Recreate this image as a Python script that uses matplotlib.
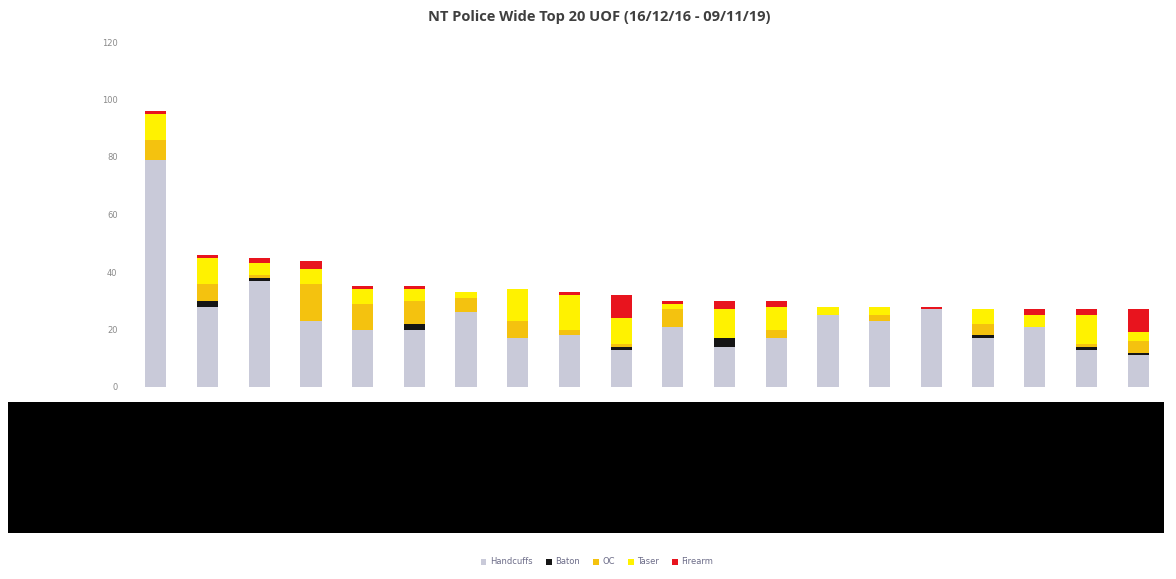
import matplotlib
matplotlib.use("Agg")
import matplotlib.pyplot as plt
from matplotlib.patches import Rectangle
import numpy as np

# Top 20 use-of-force counts, stacked by force type
ranks = list(range(1, 21))
handcuffs = [79, 28, 37, 23, 20, 20, 26, 17, 18, 13, 21, 14, 17, 25, 23, 27, 17, 21, 13, 11]
baton     = [0, 2, 1, 0, 0, 2, 0, 0, 0, 1, 0, 3, 0, 0, 0, 0, 1, 0, 1, 1]
oc        = [7, 6, 1, 13, 9, 8, 5, 6, 2, 1, 6, 0, 3, 0, 2, 0, 4, 0, 1, 4]
taser     = [9, 9, 4, 5, 5, 4, 2, 11, 12, 9, 2, 10, 8, 3, 3, 0, 5, 4, 10, 3]
firearm   = [1, 1, 2, 3, 1, 1, 0, 0, 1, 8, 1, 3, 2, 0, 0, 1, 0, 2, 2, 8]

series = [
    ("Handcuffs", handcuffs, "#c9cad9"),
    ("Baton", baton, "#151515"),
    ("OC", oc, "#f4c20f"),
    ("Taser", taser, "#fff200"),
    ("Firearm", firearm, "#e8141e"),
]

fig = plt.figure(figsize=(11.76, 5.79), dpi=100)
fig.patch.set_facecolor("white")
ax = fig.add_axes([130 / 1176, 192 / 579, 1034 / 1176, 345 / 579])

x = np.arange(len(ranks))
bottom = np.zeros(len(ranks))
for name, vals, color in series:
    vals = np.array(vals, dtype=float)
    ax.bar(x, vals, bottom=bottom, width=0.41, color=color, label=name,
           linewidth=0)
    bottom += vals

ax.set_xlim(-0.5, len(ranks) - 0.5)
ax.set_ylim(0, 120)
ax.set_yticks(range(0, 121, 20))
ax.tick_params(axis="y", length=0, pad=9, labelsize=6, labelcolor="#8a8a8a")
ax.set_xticks(x)
ax.set_xticklabels([])
ax.tick_params(axis="x", length=0)
for side in ax.spines.values():
    side.set_visible(False)

fig.text(599 / 1176, 1 - 17 / 579, "NT Police Wide Top 20 UOF (16/12/16 - 09/11/19)",
         ha="center", va="center", fontsize=10.5, fontweight="bold",
         color="#3f3f3f", family="Open Sans")

handles, labels = ax.get_legend_handles_labels()
leg = fig.legend(handles, labels, loc="center", bbox_to_anchor=(597 / 1176, 17 / 579),
                 ncol=5, frameon=False, fontsize=6, handlelength=0.7,
                 handleheight=0.7, handletextpad=0.4, columnspacing=1.6)
for t in leg.get_texts():
    t.set_color("#6c6c88")

# Redaction block over the category labels
fig.patches.append(Rectangle((8 / 1176, 46 / 579), 1156 / 1176, 131 / 579,
                             transform=fig.transFigure, facecolor="black",
                             edgecolor="none", zorder=10))

fig.savefig("out.png", dpi=100, facecolor="white")
